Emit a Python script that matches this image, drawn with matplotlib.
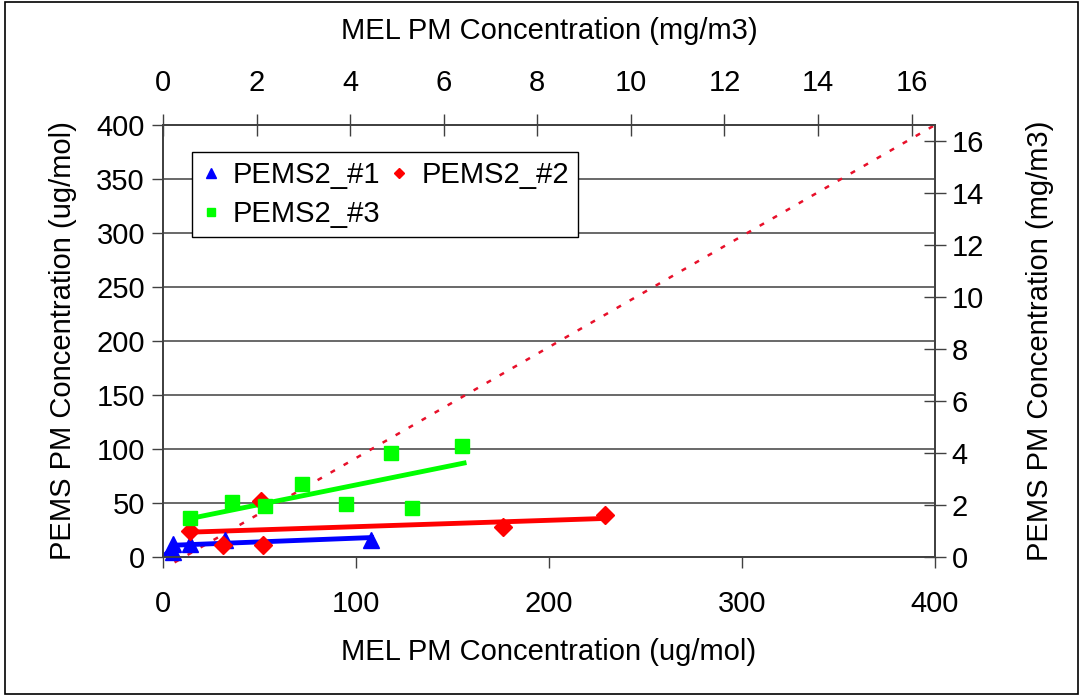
import matplotlib
matplotlib.use('Agg')
import matplotlib.pyplot as plt
from matplotlib.patches import Rectangle

plt.rcParams['font.family'] = ['Liberation Sans', 'DejaVu Sans']

# PEMS2_#1 (ug/mol)
s1_x = [5, 5, 14, 32, 108]
s1_y = [12, 5, 12, 16, 16]
s1_fit_x = [0, 7, 108]
s1_fit_y = [0.5, 11, 18]

# PEMS2_#2
s2_x = [14, 31, 51, 52, 176, 229]
s2_y = [24.5, 11.5, 52, 11, 27.5, 38.5]
s2_fit_x = [14, 229]
s2_fit_y = [23, 35.7]

# PEMS2_#3
s3_x = [14, 36, 53, 72, 95, 118, 129, 155]
s3_y = [36, 51, 47, 68, 49, 96, 45.5, 103]
s3_fit_x = [14, 156]
s3_fit_y = [35.6, 87]

# 1:1 reference line
ref_x = [6, 400]
ref_y = [-5, 400]

FS = 21

fig = plt.figure(figsize=(10.84, 6.98), dpi=100)
ax = fig.add_axes([163/1084, 1-557/698, 772/1084, 432/698])

ax.plot(ref_x, ref_y, color='#e8102a', lw=1.8, ls=(0, (2, 4)), clip_on=False, zorder=2)
ax.plot(s1_fit_x, s1_fit_y, color='#0000ff', lw=3.5, zorder=3)
ax.plot(s2_fit_x, s2_fit_y, color='#ff0000', lw=3.5, zorder=3)
ax.plot(s3_fit_x, s3_fit_y, color='#00ff00', lw=3.5, zorder=3)
h1, = ax.plot(s1_x, s1_y, '^', color='#0000ff', ms=11, ls='none', label='PEMS2_#1', zorder=4, clip_on=False)
h2, = ax.plot(s2_x, s2_y, 'D', color='#ff0000', ms=9, ls='none', label='PEMS2_#2', zorder=4)
h3, = ax.plot(s3_x, s3_y, 's', color='#00ff00', ms=10, ls='none', label='PEMS2_#3', zorder=4)

ax.set_xlim(0, 400)
ax.set_ylim(0, 400)
ax.set_xticks([0, 100, 200, 300, 400])
ax.set_yticks(range(0, 401, 50))
for y in range(50, 400, 50):
    ax.axhline(y, color='#404040', lw=1.1, zorder=1)
ax.tick_params(axis='both', direction='out', length=8, width=1, labelsize=FS, color='#404040')
ax.tick_params(axis='x', pad=16)
ax.tick_params(axis='y', pad=5)
ax.set_xlabel('MEL PM Concentration (ug/mol)', fontsize=FS, labelpad=14)
ax.set_ylabel('PEMS PM Concentration (ug/mol)', fontsize=FS, labelpad=14)
for s in ax.spines.values():
    s.set_color('#404040')
    s.set_linewidth(1.1)

ax_top = ax.twiny()
ax_top.set_xlim(0, 16.5)
ax_top.set_xticks(range(0, 17, 2))
ax_top.tick_params(axis='x', direction='inout', length=16, width=1, labelsize=FS, pad=12, color='#404040')
ax_top.set_xlabel('MEL PM Concentration (mg/m3)', fontsize=FS, labelpad=22)

ax_right = ax.twinx()
ax_right.set_ylim(0, 16.6)
ax_right.set_yticks(range(0, 17, 2))
ax_right.tick_params(axis='y', direction='inout', length=16, width=1, labelsize=FS, pad=4, color='#404040')
ax_right.set_ylabel('PEMS PM Concentration (mg/m3)', fontsize=FS, labelpad=30)
for a in (ax_top, ax_right):
    for s in a.spines.values():
        s.set_color('#404040')
        s.set_linewidth(1.1)

leg = ax.legend(handles=[h1, h3, h2], ncol=2, loc='upper left',
                bbox_to_anchor=((192-163)/772, (557-152)/432), borderaxespad=0,
                fontsize=FS, fancybox=False, edgecolor='black', framealpha=1,
                markerscale=0.6, handlelength=0.7, handletextpad=0.4,
                columnspacing=0.3, borderpad=0.3, labelspacing=0.4)
leg.get_frame().set_linewidth(1)

fig.patches.append(Rectangle((5/1084, 4/698), 1073/1084, 692/698, transform=fig.transFigure,
                             fill=False, edgecolor='black', lw=1.2))

fig.savefig('out.png', dpi=100)
